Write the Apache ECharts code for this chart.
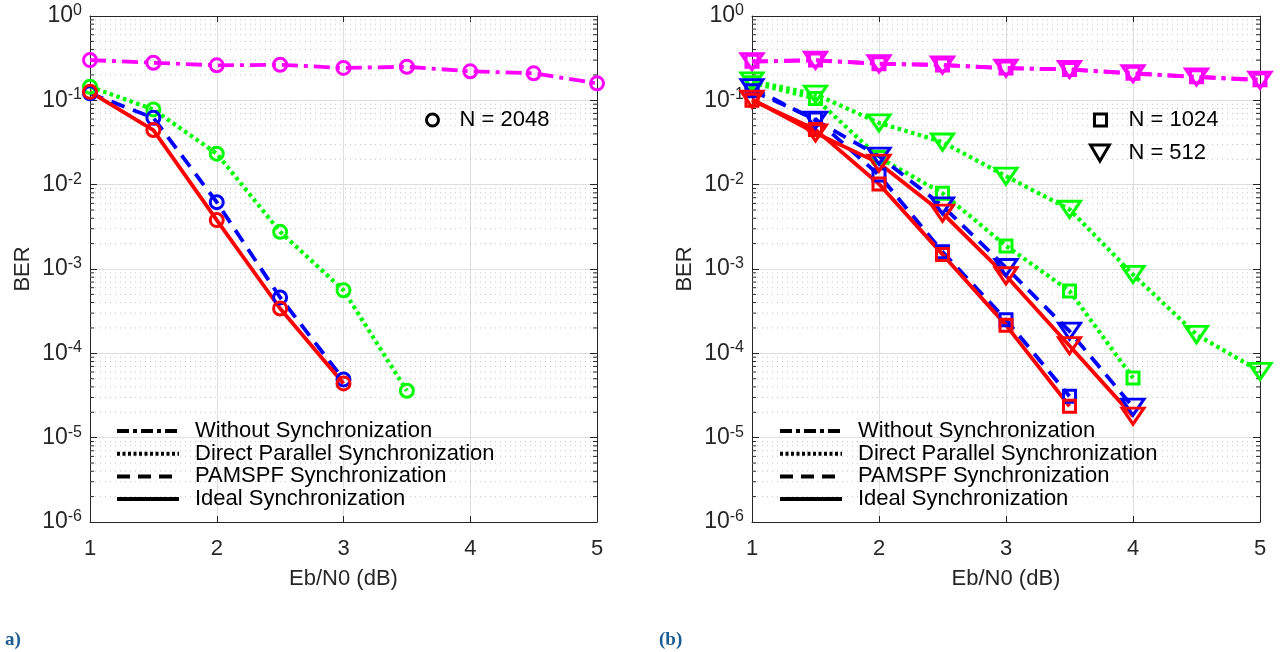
<!DOCTYPE html>
<html><head><meta charset="utf-8">
<script src="https://cdn.jsdelivr.net/npm/echarts@6/dist/echarts.min.js"></script>
<style>html,body{margin:0;padding:0;background:#fff}#c{width:1282px;height:652px}</style>
</head><body><div id="c"></div>
<script>
// ---------- data ----------
const ebn0 = [1, 1.5, 2, 2.5, 3, 3.5, 4, 4.5, 5];
const xTicks = [1, 2, 3, 4, 5];
const yTicks = [1e-6, 1e-5, 1e-4, 1e-3, 1e-2, 1e-1, 1];

// (a) N = 2048
const noSync2048 = [0.30, 0.279, 0.26, 0.264, 0.242, 0.25, 0.221, 0.209, 0.159];
const direct2048 = [0.145, 0.078, 0.0233, 0.00276, 5.6e-4, 3.6e-5];
const pamspf2048 = [0.121, 0.062, 0.0062, 4.6e-4, 4.9e-5];
const ideal2048  = [0.126, 0.0444, 0.0038, 3.4e-4, 4.4e-5];

// (b) N = 1024 (squares) and N = 512 (triangles)
const noSync1024 = [0.29, 0.30, 0.272, 0.262, 0.242, 0.232, 0.21, 0.19, 0.176];
const noSync512  = [0.287, 0.298, 0.271, 0.262, 0.240, 0.233, 0.207, 0.189, 0.173];
const direct1024 = [0.162, 0.105, 0.021, 0.0079, 0.00188, 5.5e-4, 5.1e-5];
const direct512  = [0.17, 0.118, 0.054, 0.032, 0.0126, 0.0051, 8.6e-4, 1.67e-4, 6.1e-5];
const pamspf1024 = [0.13, 0.06, 0.013, 0.0016, 2.5e-4, 3.1e-5];
const pamspf512  = [0.141, 0.058, 0.0218, 0.0056, 0.00104, 1.83e-4, 2.3e-5];
const ideal1024  = [0.10, 0.045, 0.0102, 0.00149, 2.16e-4, 2.36e-5];
const ideal512   = [0.103, 0.041, 0.018, 0.0046, 8.3e-4, 1.23e-4, 1.8e-5];

const legendNames = ['Without Synchronization', 'Direct Parallel Synchronization', 'PAMSPF Synchronization', 'Ideal Synchronization'];

// ---------- styles ----------
const FONT = 'Liberation Sans';
const TXT = '#262626';
const C = {mag: '#ff00ff', grn: '#00ff00', blu: '#0000ff', red: '#ff0000'};
const DASH = {
  dashdot: [16, 6, 4, 6],
  dotted: [3.5, 3.5],
  dashed: [14, 9],
  solid: 'solid'
};
const TRI = 'path://M0,0L20,0L10,17Z';

const pairs = (vals) => vals.map((v, i) => [ebn0[i], v]);

// minor log positions (2..9 per decade)
const minorVals = [];
for (let e = -6; e < 0; e++) for (let m = 2; m <= 9; m++) minorVals.push(m * Math.pow(10, e));

function mkLine(name, vals, color, dash, symbol, size, grid) {
  return {
    name: name, type: 'line', xAxisIndex: grid, yAxisIndex: grid,
    data: pairs(vals),
    symbol: symbol, symbolSize: size, symbolKeepAspect: true,
    showSymbol: true,
    lineStyle: {color: color, width: dash === DASH.dotted ? 4.2 : 3.8, type: dash, cap: 'butt'},
    itemStyle: {color: 'rgba(0,0,0,0)', borderColor: color, borderWidth: 3},
    z: 3, animation: false, silent: true
  };
}

function minorSeries(grid) {
  return {
    type: 'custom', xAxisIndex: grid, yAxisIndex: grid, silent: true, z: 1, animation: false,
    data: minorVals.map(v => [1, v]),
    renderItem: function (params, api) {
      const v = api.value(1);
      const p0 = api.coord([1, v]);
      const p1 = api.coord([5, v]);
      return {type: 'group', children: [
        {type: 'line', shape: {x1: p0[0], y1: p0[1], x2: p1[0], y2: p1[1]},
         style: {stroke: '#c4c4c4', lineWidth: 1, lineDash: [1, 4]}},
        {type: 'line', shape: {x1: p0[0], y1: p0[1], x2: p0[0] + 4, y2: p0[1]},
         style: {stroke: TXT, lineWidth: 1}},
        {type: 'line', shape: {x1: p1[0] - 4, y1: p1[1], x2: p1[0], y2: p1[1]},
         style: {stroke: TXT, lineWidth: 1}}
      ]};
    }
  };
}

function yFmt(v) {
  const e = Math.round(Math.log10(v));
  return '{b|10}{s|' + e + '}';
}

function xAxis(grid, pos) {
  const bottom = pos === 'bottom';
  return {
    gridIndex: grid, type: 'value', min: 1, max: 5, interval: 1, position: pos,
    axisLine: {show: true, onZero: false, lineStyle: {color: TXT, width: 1}},
    axisTick: {show: true, inside: true, length: 6, lineStyle: {color: TXT}},
    axisLabel: {show: bottom, fontSize: 22, color: TXT, fontFamily: FONT, margin: 16,
                formatter: v => (xTicks.indexOf(v) >= 0 ? String(v) : '')},
    splitLine: {show: bottom, lineStyle: {color: '#dedede', width: 1}},
    name: bottom ? 'Eb/N0 (dB)' : '', nameLocation: 'middle', nameGap: 46,
    nameTextStyle: {fontSize: 22, color: TXT, fontFamily: FONT}
  };
}

function yAxis(grid, pos) {
  const left = pos === 'left';
  return {
    gridIndex: grid, type: 'log', logBase: 10, min: yTicks[0], max: yTicks[yTicks.length - 1],
    splitNumber: 6, position: pos,
    axisLine: {show: true, onZero: false, lineStyle: {color: TXT, width: 1}},
    axisTick: {show: true, inside: true, length: 7, lineStyle: {color: TXT}},
    axisLabel: {show: left, color: TXT, fontFamily: FONT, margin: 8, formatter: yFmt,
      rich: {
        b: {fontSize: 23, color: TXT, fontFamily: FONT},
        s: {fontSize: 16, color: TXT, fontFamily: FONT, padding: [0, 0, 11, 0]}
      }},
    splitLine: {show: left, lineStyle: {color: '#dedede', width: 1}},
    name: left ? 'BER' : '', nameLocation: 'middle', nameGap: 56, nameRotate: 90,
    nameTextStyle: {fontSize: 22, color: TXT, fontFamily: FONT}
  };
}

const series = [
  minorSeries(0), minorSeries(1),
  // (a)
  mkLine('a-nosync', noSync2048, C.mag, DASH.dashdot, 'circle', 13, 0),
  mkLine('a-direct', direct2048, C.grn, DASH.dotted, 'circle', 13, 0),
  mkLine('a-pamspf', pamspf2048, C.blu, DASH.dashed, 'circle', 13, 0),
  mkLine('a-ideal', ideal2048, C.red, DASH.solid, 'circle', 13, 0),
  // (b)
  mkLine('b-nosync-512', noSync512, C.mag, DASH.dashdot, TRI, [22, 19], 1),
  mkLine('b-nosync-1024', noSync1024, C.mag, DASH.dashdot, 'rect', 12, 1),
  mkLine('b-direct-512', direct512, C.grn, DASH.dotted, TRI, [22, 19], 1),
  mkLine('b-direct-1024', direct1024, C.grn, DASH.dotted, 'rect', 12, 1),
  mkLine('b-pamspf-512', pamspf512, C.blu, DASH.dashed, TRI, [22, 19], 1),
  mkLine('b-pamspf-1024', pamspf1024, C.blu, DASH.dashed, 'rect', 12, 1),
  mkLine('b-ideal-512', ideal512, C.red, DASH.solid, TRI, [22, 19], 1),
  mkLine('b-ideal-1024', ideal1024, C.red, DASH.solid, 'rect', 12, 1)
];

// legend-only dummy series (black line styles & markers)
const legendDash = [[12, 4, 4, 4], [3, 2.5], [13, 8], 'solid'];
legendNames.forEach((n, i) => series.push({
  name: n, type: 'line', xAxisIndex: 0, yAxisIndex: 0, data: [], symbol: 'none',
  lineStyle: {color: '#000', width: 4, type: legendDash[i], cap: 'butt'},
  itemStyle: {color: '#000', opacity: 0}
}));
[['N = 2048', 'circle'], ['N = 1024', 'rect'], ['N = 512', TRI]].forEach(([n, s]) => series.push({
  name: n, type: 'line', xAxisIndex: 0, yAxisIndex: 0, data: [], symbol: s,
  itemStyle: {color: 'rgba(0,0,0,0)', borderColor: '#000', borderWidth: 3},
  lineStyle: {opacity: 0}
}));

const lineLegend = (left) => ({
  left: left, top: 420, padding: 0, orient: 'vertical', itemWidth: 62, itemHeight: 14, itemGap: 0.7,
  selectedMode: false,
  data: legendNames.map(n => ({name: n, itemStyle: {opacity: 0}})),
  lineStyle: {width: 4, color: '#000'},
  textStyle: {fontSize: 22, color: '#000', fontFamily: FONT, lineHeight: 22, padding: [0, 0, 0, 11]}
});
const markLegend = (left, top, name, icon, w, h, pad) => ({
  left: left, top: top, padding: 0, orient: 'vertical', itemWidth: w, itemHeight: h, selectedMode: false,
  data: [{name: name, icon: icon,
          itemStyle: {color: 'rgba(0,0,0,0)', borderColor: '#000', borderWidth: 3}}],
  textStyle: {fontSize: 22, color: '#000', fontFamily: FONT, lineHeight: 22, padding: [0, 0, 0, pad]}
});

const option = {
  animation: false,
  backgroundColor: '#fff',
  title: [
    {text: 'a)', left: 0, top: 626, textStyle: {fontFamily: 'Liberation Serif', fontWeight: 'bold', fontSize: 19, color: '#1b5c92'}},
    {text: '(b)', left: 654, top: 626, textStyle: {fontFamily: 'Liberation Serif', fontWeight: 'bold', fontSize: 19, color: '#1b5c92'}}
  ],
  grid: [
    {left: 90, top: 16, width: 507, height: 506, show: false},
    {left: 752, top: 16, width: 508, height: 506, show: false}
  ],
  xAxis: [xAxis(0, 'bottom'), xAxis(1, 'bottom'), xAxis(0, 'top'), xAxis(1, 'top')],
  yAxis: [yAxis(0, 'left'), yAxis(1, 'left'), yAxis(0, 'right'), yAxis(1, 'right')],
  legend: [
    lineLegend(115), lineLegend(778),
    markLegend(425, 109, 'N = 2048', 'circle', 12, 12, 16),
    markLegend(1093, 109, 'N = 1024', 'rect', 12, 12, 17),
    markLegend(1089, 142, 'N = 512', TRI, 19, 16, 14)
  ],
  series: series
};

const chart = echarts.init(document.getElementById('c'), null, {renderer: 'canvas'});
chart.setOption(option);
</script>
</body></html>
